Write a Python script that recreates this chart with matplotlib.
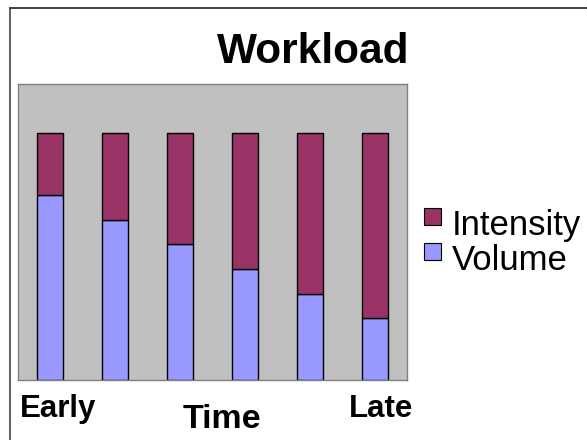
import matplotlib
matplotlib.use("Agg")
import matplotlib.pyplot as plt
from matplotlib.patches import Rectangle
from matplotlib.lines import Line2D
import numpy as np

plt.rcParams['font.family'] = ['Liberation Sans', 'DejaVu Sans']

# workload split over six time points
phases = ["1", "2", "3", "4", "5", "6"]
volume = [75, 65, 55, 45, 35, 25]
intensity = [25, 35, 45, 55, 65, 75]

series_names = ["Intensity", "Volume"]
col_intensity = "#993366"
col_volume = "#9999FF"

W, H = 587, 440
fig = plt.figure(figsize=(W / 100, H / 100), dpi=100)

# plot area in pixel units -> figure fractions
x0, x1, y0, y1 = 18, 407, 84, 380
ax = fig.add_axes([x0 / W, 1 - y1 / H, (x1 - x0) / W, (y1 - y0) / H])
ax.set_facecolor("#C0C0C0")

x = np.arange(len(phases))
ax.bar(x, volume, width=0.4, color=col_volume, edgecolor="black", linewidth=1.0)
ax.bar(x, intensity, width=0.4, bottom=volume, color=col_intensity,
       edgecolor="black", linewidth=1.0)

ax.set_xlim(-0.5, len(phases) - 0.5)
ax.set_ylim(0, 120)
ax.set_xticks([])
ax.set_yticks([])
for s in ax.spines.values():
    s.set_color("#808080")
    s.set_linewidth(1.0)

def fx(px):
    return px / W

def fy(py):
    return 1 - py / H

fig.text(fx(313), fy(63), "Workload", fontsize=30.5, fontweight="bold",
         ha="center", va="baseline")
fig.text(fx(222), fy(428), "Time", fontsize=24.5, fontweight="bold",
         ha="center", va="baseline")
fig.text(fx(20), fy(417), "Early", fontsize=22.5, fontweight="bold",
         ha="left", va="baseline")
fig.text(fx(349), fy(417), "Late", fontsize=22.5, fontweight="bold",
         ha="left", va="baseline")

# legend drawn by hand so the boxes sit right next to the big labels
legend_rows = [(series_names[0], col_intensity, 235), (series_names[1], col_volume, 270)]
for name, col, base in legend_rows:
    fig.patches.append(Rectangle((fx(424), fy(base - 10)), 17 / W, 17 / H,
                                 transform=fig.transFigure, facecolor=col,
                                 edgecolor="black", linewidth=0.8))
    fig.text(fx(452), fy(base), name, fontsize=25, ha="left", va="baseline")

# frame edges along top and left
fig.lines.append(Line2D([fx(10), 1], [fy(8), fy(8)], transform=fig.transFigure,
                        color="#222222", linewidth=1.2))
fig.lines.append(Line2D([fx(10), fx(10)], [fy(8), 0], transform=fig.transFigure,
                        color="#444444", linewidth=1.2))

fig.savefig("out.png", dpi=100)
